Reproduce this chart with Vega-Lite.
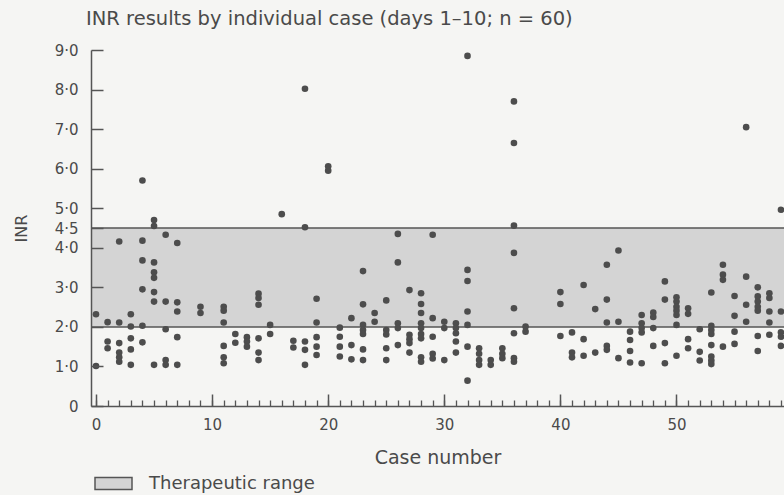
{
  "$schema": "https://vega.github.io/schema/vega-lite/v6.json",
  "autosize": "none",
  "width": 693,
  "height": 356,
  "padding": {"left": 91, "top": 50, "right": 0, "bottom": 89},
  "background": "#f5f5f3",
  "config": {
    "view": {"stroke": null},
    "font": "DejaVu Sans"
  },
  "title": {
    "text": "INR results by individual case (days 1–10; n = 60)",
    "anchor": "start",
    "frame": "group",
    "font": "DejaVu Sans",
    "fontSize": 19.5,
    "fontWeight": "normal",
    "color": "#4a4a4a",
    "baseline": "alphabetic",
    "offset": 23,
    "dx": -5,
    "dy": 24
  },
  "datasets": {
    "band": [{"lo": 2.0, "hi": 4.5, "label": "Therapeutic range"}],
    "inr": [
      {"case": 0, "INR": 2.32}, {"case": 0, "INR": 1.01},
      {"case": 1, "INR": 2.12}, {"case": 1, "INR": 1.63}, {"case": 1, "INR": 1.46},
      {"case": 2, "INR": 4.16}, {"case": 2, "INR": 2.11}, {"case": 2, "INR": 1.59}, {"case": 2, "INR": 1.35}, {"case": 2, "INR": 1.23}, {"case": 2, "INR": 1.12},
      {"case": 3, "INR": 2.32}, {"case": 3, "INR": 2.01}, {"case": 3, "INR": 1.71}, {"case": 3, "INR": 1.43}, {"case": 3, "INR": 1.04},
      {"case": 4, "INR": 5.70}, {"case": 4, "INR": 4.18}, {"case": 4, "INR": 3.68}, {"case": 4, "INR": 2.95}, {"case": 4, "INR": 2.03}, {"case": 4, "INR": 1.61},
      {"case": 5, "INR": 4.70}, {"case": 5, "INR": 4.55}, {"case": 5, "INR": 3.63}, {"case": 5, "INR": 3.38}, {"case": 5, "INR": 3.24}, {"case": 5, "INR": 2.88}, {"case": 5, "INR": 2.64}, {"case": 5, "INR": 1.04},
      {"case": 6, "INR": 4.33}, {"case": 6, "INR": 2.64}, {"case": 6, "INR": 1.94}, {"case": 6, "INR": 1.16}, {"case": 6, "INR": 1.04},
      {"case": 7, "INR": 4.12}, {"case": 7, "INR": 2.62}, {"case": 7, "INR": 2.39}, {"case": 7, "INR": 1.74}, {"case": 7, "INR": 1.04},
      {"case": 9, "INR": 2.51}, {"case": 9, "INR": 2.35},
      {"case": 11, "INR": 2.51}, {"case": 11, "INR": 2.41}, {"case": 11, "INR": 2.11}, {"case": 11, "INR": 1.52}, {"case": 11, "INR": 1.23}, {"case": 11, "INR": 1.08},
      {"case": 12, "INR": 1.82}, {"case": 12, "INR": 1.60},
      {"case": 13, "INR": 1.74}, {"case": 13, "INR": 1.63}, {"case": 13, "INR": 1.50},
      {"case": 14, "INR": 2.84}, {"case": 14, "INR": 2.73}, {"case": 14, "INR": 2.56}, {"case": 14, "INR": 1.71}, {"case": 14, "INR": 1.35}, {"case": 14, "INR": 1.16},
      {"case": 15, "INR": 2.05}, {"case": 15, "INR": 1.82},
      {"case": 16, "INR": 4.85},
      {"case": 17, "INR": 1.65}, {"case": 17, "INR": 1.48},
      {"case": 18, "INR": 8.02}, {"case": 18, "INR": 4.52}, {"case": 18, "INR": 1.63}, {"case": 18, "INR": 1.42}, {"case": 18, "INR": 1.04},
      {"case": 19, "INR": 2.71}, {"case": 19, "INR": 2.11}, {"case": 19, "INR": 1.74}, {"case": 19, "INR": 1.50}, {"case": 19, "INR": 1.29},
      {"case": 20, "INR": 6.06}, {"case": 20, "INR": 5.95},
      {"case": 21, "INR": 1.98}, {"case": 21, "INR": 1.75}, {"case": 21, "INR": 1.50}, {"case": 21, "INR": 1.25},
      {"case": 22, "INR": 2.22}, {"case": 22, "INR": 1.54}, {"case": 22, "INR": 1.18},
      {"case": 23, "INR": 3.41}, {"case": 23, "INR": 2.57}, {"case": 23, "INR": 2.05}, {"case": 23, "INR": 1.92}, {"case": 23, "INR": 1.82}, {"case": 23, "INR": 1.43}, {"case": 23, "INR": 1.16},
      {"case": 24, "INR": 2.35}, {"case": 24, "INR": 2.13},
      {"case": 25, "INR": 2.67}, {"case": 25, "INR": 1.92}, {"case": 25, "INR": 1.81}, {"case": 25, "INR": 1.46}, {"case": 25, "INR": 1.16},
      {"case": 26, "INR": 4.35}, {"case": 26, "INR": 3.63}, {"case": 26, "INR": 2.09}, {"case": 26, "INR": 1.97}, {"case": 26, "INR": 1.54},
      {"case": 27, "INR": 2.93}, {"case": 27, "INR": 1.80}, {"case": 27, "INR": 1.69}, {"case": 27, "INR": 1.59}, {"case": 27, "INR": 1.35},
      {"case": 28, "INR": 2.85}, {"case": 28, "INR": 2.58}, {"case": 28, "INR": 2.35}, {"case": 28, "INR": 2.09}, {"case": 28, "INR": 1.97}, {"case": 28, "INR": 1.82}, {"case": 28, "INR": 1.71}, {"case": 28, "INR": 1.23}, {"case": 28, "INR": 1.12},
      {"case": 29, "INR": 4.33}, {"case": 29, "INR": 2.22}, {"case": 29, "INR": 1.75}, {"case": 29, "INR": 1.32}, {"case": 29, "INR": 1.20},
      {"case": 30, "INR": 2.13}, {"case": 30, "INR": 1.97}, {"case": 30, "INR": 1.16},
      {"case": 31, "INR": 2.09}, {"case": 31, "INR": 1.97}, {"case": 31, "INR": 1.84}, {"case": 31, "INR": 1.63}, {"case": 31, "INR": 1.35},
      {"case": 32, "INR": 8.85}, {"case": 32, "INR": 3.44}, {"case": 32, "INR": 3.16}, {"case": 32, "INR": 2.39}, {"case": 32, "INR": 2.05}, {"case": 32, "INR": 1.50}, {"case": 32, "INR": 0.64},
      {"case": 33, "INR": 1.46}, {"case": 33, "INR": 1.32}, {"case": 33, "INR": 1.16}, {"case": 33, "INR": 1.04},
      {"case": 34, "INR": 1.16}, {"case": 34, "INR": 1.04},
      {"case": 35, "INR": 1.46}, {"case": 35, "INR": 1.32}, {"case": 35, "INR": 1.21},
      {"case": 36, "INR": 7.70}, {"case": 36, "INR": 6.65}, {"case": 36, "INR": 4.56}, {"case": 36, "INR": 3.87}, {"case": 36, "INR": 2.47}, {"case": 36, "INR": 1.84}, {"case": 36, "INR": 1.21}, {"case": 36, "INR": 1.12},
      {"case": 37, "INR": 2.01}, {"case": 37, "INR": 1.88},
      {"case": 40, "INR": 2.88}, {"case": 40, "INR": 2.58}, {"case": 40, "INR": 1.77},
      {"case": 41, "INR": 1.86}, {"case": 41, "INR": 1.35}, {"case": 41, "INR": 1.23},
      {"case": 42, "INR": 3.06}, {"case": 42, "INR": 1.69}, {"case": 42, "INR": 1.27},
      {"case": 43, "INR": 2.45}, {"case": 43, "INR": 1.35},
      {"case": 44, "INR": 3.57}, {"case": 44, "INR": 2.69}, {"case": 44, "INR": 2.11}, {"case": 44, "INR": 1.52}, {"case": 44, "INR": 1.42},
      {"case": 45, "INR": 3.93}, {"case": 45, "INR": 2.13}, {"case": 45, "INR": 1.21},
      {"case": 46, "INR": 1.88}, {"case": 46, "INR": 1.67}, {"case": 46, "INR": 1.39}, {"case": 46, "INR": 1.10},
      {"case": 47, "INR": 2.30}, {"case": 47, "INR": 2.09}, {"case": 47, "INR": 1.97}, {"case": 47, "INR": 1.86}, {"case": 47, "INR": 1.08},
      {"case": 48, "INR": 2.36}, {"case": 48, "INR": 2.25}, {"case": 48, "INR": 1.97}, {"case": 48, "INR": 1.52},
      {"case": 49, "INR": 3.15}, {"case": 49, "INR": 2.69}, {"case": 49, "INR": 1.59}, {"case": 49, "INR": 1.08},
      {"case": 50, "INR": 2.75}, {"case": 50, "INR": 2.64}, {"case": 50, "INR": 2.51}, {"case": 50, "INR": 2.41}, {"case": 50, "INR": 2.30}, {"case": 50, "INR": 2.05}, {"case": 50, "INR": 1.27},
      {"case": 51, "INR": 2.47}, {"case": 51, "INR": 2.33}, {"case": 51, "INR": 1.69}, {"case": 51, "INR": 1.46},
      {"case": 52, "INR": 1.94}, {"case": 52, "INR": 1.37}, {"case": 52, "INR": 1.15},
      {"case": 53, "INR": 2.87}, {"case": 53, "INR": 2.03}, {"case": 53, "INR": 1.92}, {"case": 53, "INR": 1.82}, {"case": 53, "INR": 1.54}, {"case": 53, "INR": 1.25}, {"case": 53, "INR": 1.15}, {"case": 53, "INR": 1.06},
      {"case": 54, "INR": 3.57}, {"case": 54, "INR": 3.32}, {"case": 54, "INR": 3.19}, {"case": 54, "INR": 1.50},
      {"case": 55, "INR": 2.78}, {"case": 55, "INR": 2.28}, {"case": 55, "INR": 1.88}, {"case": 55, "INR": 1.57},
      {"case": 56, "INR": 7.05}, {"case": 56, "INR": 3.27}, {"case": 56, "INR": 2.56}, {"case": 56, "INR": 2.13},
      {"case": 57, "INR": 3.00}, {"case": 57, "INR": 2.77}, {"case": 57, "INR": 2.64}, {"case": 57, "INR": 2.51}, {"case": 57, "INR": 2.41}, {"case": 57, "INR": 1.77}, {"case": 57, "INR": 1.39},
      {"case": 58, "INR": 2.85}, {"case": 58, "INR": 2.73}, {"case": 58, "INR": 2.39}, {"case": 58, "INR": 2.11}, {"case": 58, "INR": 1.80},
      {"case": 59, "INR": 4.96}, {"case": 59, "INR": 2.39}, {"case": 59, "INR": 1.86}, {"case": 59, "INR": 1.75}, {"case": 59, "INR": 1.52}
    ]
  },
  "resolve": {"axis": {"x": "independent"}},
  "layer": [
    {
      "data": {"name": "band"},
      "mark": {"type": "rect", "stroke": "#555555", "strokeWidth": 1.5, "clip": true},
      "encoding": {
        "x": {"datum": -0.43, "type": "quantitative",
          "scale": {"domain": [-0.43, 59.26], "nice": false, "zero": false},
          "axis": {"orient": "bottom", "values": [0,1,2,3,4,5,6,7,8,9,10,11,12,13,14,15,16,17,18,19,20,21,22,23,24,25,26,27,28,29,30,31,32,33,34,35,36,37,38,39,40,41,42,43,44,45,46,47,48,49,50,51,52,53,54,55,56,57,58,59],
            "labels": false, "title": null, "tickSize": -6, "tickColor": "#555555", "tickWidth": 1.3,
            "domainColor": "#555555", "domainWidth": 1.5, "grid": false, "zindex": 1}},
        "x2": {"datum": 60},
        "y": {"field": "lo", "type": "quantitative",
          "scale": {"domain": [0, 9], "nice": false, "zero": true},
          "axis": {"values": [0, 1, 2, 3, 4, 4.5, 5, 6, 7, 8, 9],
            "labelExpr": "datum.value == 0 ? '0' : replace(format(datum.value, '.1f'), '.', '·')",
            "title": "INR", "titleFont": "DejaVu Sans", "titleFontSize": 16, "titleFontWeight": "normal", "titleColor": "#4a4a4a",
            "titleX": -65, "titleY": 178, "titleBaseline": "alphabetic", "titleAngle": -90,
            "labelFont": "DejaVu Sans", "labelFontSize": 15, "labelColor": "#4a4a4a", "labelPadding": 25,
            "tickSize": -12, "tickColor": "#555555", "tickWidth": 1.5,
            "domainColor": "#555555", "domainWidth": 1.5, "grid": false, "zindex": 1}},
        "y2": {"field": "hi"},
        "fill": {"field": "label", "type": "nominal",
          "scale": {"range": ["#d4d4d4"]},
          "legend": {"orient": "none", "legendX": 3, "legendY": 414, "title": null, "padding": 0,
            "symbolType": "M-1,-0.324H1V0.324H-1Z", "symbolSize": 1369,
            "symbolStrokeColor": "#555555", "symbolStrokeWidth": 1.5,
            "labelFont": "DejaVu Sans", "labelFontSize": 18, "labelColor": "#4a4a4a", "labelOffset": 16, "labelLimit": 400}}
      }
    },
    {
      "data": {"name": "inr"},
      "mark": {"type": "circle", "size": 44, "color": "#4d4d4d", "opacity": 1},
      "encoding": {
        "x": {"field": "case", "type": "quantitative",
          "scale": {"domain": [-0.43, 59.26], "nice": false, "zero": false},
          "axis": {"orient": "bottom", "values": [0, 10, 20, 30, 40, 50],
            "title": "Case number", "titleFont": "DejaVu Sans", "titleFontSize": 19, "titleFontWeight": "normal", "titleColor": "#4a4a4a",
            "titleBaseline": "alphabetic", "titleY": 57,
            "labelFont": "DejaVu Sans", "labelFontSize": 15, "labelColor": "#4a4a4a", "labelPadding": 23,
            "tickSize": -12, "tickColor": "#555555", "tickWidth": 1.5,
            "domain": false, "grid": false, "zindex": 1}},
        "y": {"field": "INR", "type": "quantitative",
          "scale": {"domain": [0, 9], "nice": false, "zero": true},
          "axis": {"values": [0, 1, 2, 3, 4, 4.5, 5, 6, 7, 8, 9],
            "labelExpr": "datum.value == 0 ? '0' : replace(format(datum.value, '.1f'), '.', '·')",
            "title": "INR", "titleFont": "DejaVu Sans", "titleFontSize": 16, "titleFontWeight": "normal", "titleColor": "#4a4a4a",
            "titleX": -65, "titleY": 178, "titleBaseline": "alphabetic", "titleAngle": -90,
            "labelFont": "DejaVu Sans", "labelFontSize": 15, "labelColor": "#4a4a4a", "labelPadding": 25,
            "tickSize": -12, "tickColor": "#555555", "tickWidth": 1.5,
            "domainColor": "#555555", "domainWidth": 1.5, "grid": false, "zindex": 1}}
      }
    }
  ]
}
